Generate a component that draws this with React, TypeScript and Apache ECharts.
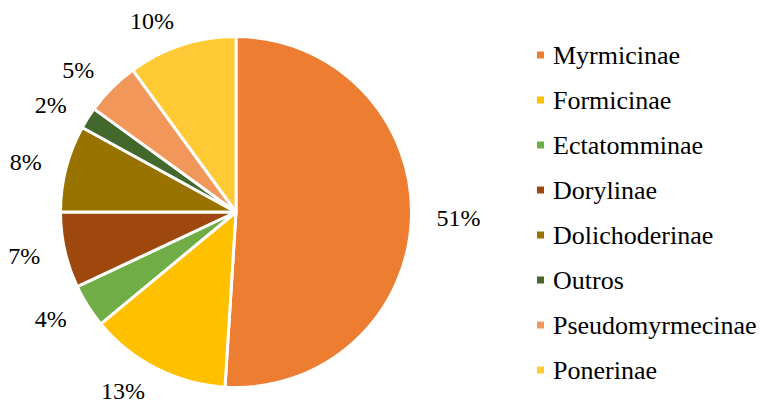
import React, { useEffect, useRef } from "react";
import * as echarts from "echarts";

const categories = [
  "Myrmicinae",
  "Formicinae",
  "Ectatomminae",
  "Dorylinae",
  "Dolichoderinae",
  "Outros",
  "Pseudomyrmecinae",
  "Ponerinae",
];
const percents = [51, 13, 4, 7, 8, 2, 5, 10];
const colors = [
  "#ED7D31",
  "#FFC000",
  "#70AD47",
  "#9E480E",
  "#997300",
  "#43682B",
  "#F1975A",
  "#FFCA33",
];

const FONT = "'Times New Roman', 'Liberation Serif', serif";

export default function App() {
  const ref = useRef<HTMLDivElement>(null);
  useEffect(() => {
    if (!ref.current) return;
    const chart = echarts.init(ref.current, undefined, { renderer: "svg" });
    chart.setOption({
      animation: false,
      color: colors,
      textStyle: { fontFamily: FONT },
      legend: {
        orient: "vertical",
        left: 535,
        top: 42,
        padding: 0,
        itemWidth: 9,
        itemHeight: 9,
        itemGap: 19,
        icon: "rect",
        data: categories,
        textStyle: {
          fontFamily: FONT,
          fontSize: 26,
          lineHeight: 26,
          color: "#000",
          padding: [0, 0, 0, 3],
        },
      },
      series: [
        {
          type: "pie",
          center: [236, 212],
          radius: 175.5,
          startAngle: 90,
          clockwise: true,
          avoidLabelOverlap: false,
          itemStyle: { borderColor: "#fff", borderWidth: 3 },
          label: {
            show: true,
            position: "outside",
            formatter: "{c}%",
            fontFamily: FONT,
            fontSize: 24,
            color: "#000",
            distanceToLabelLine: 0,
          },
          labelLine: { show: false, length: 25, length2: 0 },
          data: categories.map((name, i) => ({ name, value: percents[i] })),
        },
      ],
    });
    return () => chart.dispose();
  }, []);
  return (
    <div
      ref={ref}
      style={{ position: "fixed", left: 0, top: 0, width: 763, height: 406, background: "#fff" }}
    />
  );
}
